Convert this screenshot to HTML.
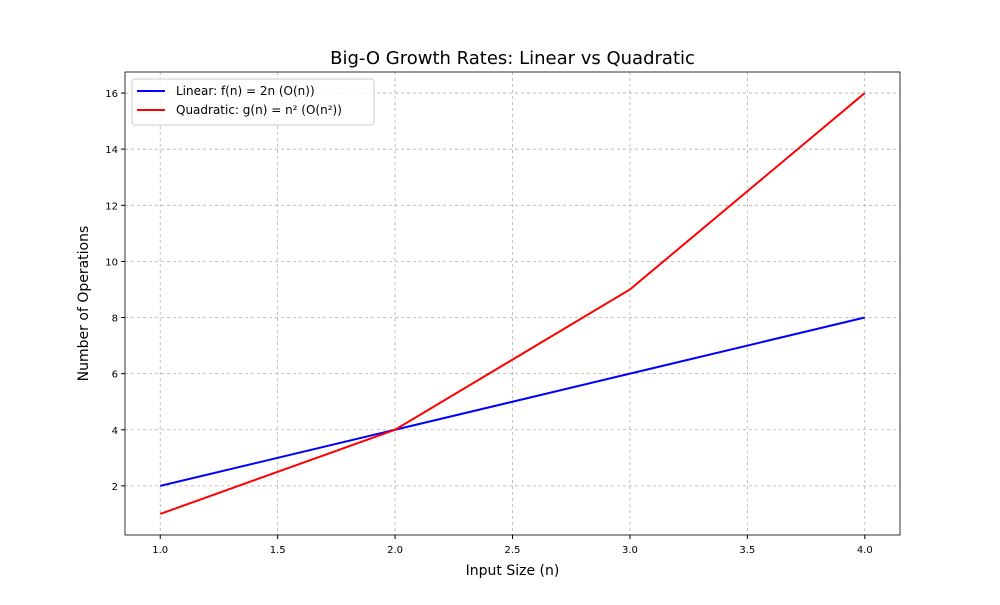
<!DOCTYPE html>
<html><head><meta charset="utf-8"><style>
body{margin:0;background:#fff;font-family:"Liberation Sans","DejaVu Sans",sans-serif;}
</style></head><body>
<svg id="chart" width="1000" height="600" xmlns="http://www.w3.org/2000/svg" font-family="'DejaVu Sans','Liberation Sans',sans-serif"></svg>
<script>
const xValues=[1,2,3,4];
const linearValues=[2,4,6,8];
const quadraticValues=[1,4,9,16];
const xTicks=[1.0,1.5,2.0,2.5,3.0,3.5,4.0];
const yTicks=[2,4,6,8,10,12,14,16];
const L=125,R=900,T=72,B=535;
const xMin=0.85,xMax=4.15,yMin=0.25,yMax=16.75;
const sx=v=>L+(v-xMin)/(xMax-xMin)*(R-L);
const sy=v=>B-(v-yMin)/(yMax-yMin)*(B-T);
const svg=document.getElementById('chart');
const NS='http://www.w3.org/2000/svg';
function mk(tag,attrs,parent){const e=document.createElementNS(NS,tag);for(const k in attrs)e.setAttribute(k,attrs[k]);(parent||svg).appendChild(e);return e;}
const grid=mk('g',{});


xTicks.forEach(t=>{
  const x=sx(t);
  const g=mk('line',{x1:x,x2:x,y1:T,y2:B,stroke:'#b0b0b0','stroke-dasharray':'3,3','stroke-width':0.8},grid);
  
  
  const tk=mk('line',{x1:x,x2:x,y1:B,y2:B+4,stroke:'#000'});
  
  
  const tx=mk('text',{x:x,y:B+18,'text-anchor':'middle','font-size':10});
  tx.textContent=t.toFixed(1);
  
  
});
yTicks.forEach(t=>{
  const y=sy(t);
  const g=mk('line',{x1:L,x2:R,y1:y,y2:y,stroke:'#b0b0b0','stroke-dasharray':'3,3','stroke-width':0.8},grid);
  
  
  const tk=mk('line',{x1:L-4,x2:L,y1:y,y2:y,stroke:'#000'});
  
  
  const tx=mk('text',{x:L-7,y:y+4,'text-anchor':'end','font-size':10});
  tx.textContent=t;
  
  
});
function series(vals,color,name){
  const p=mk('polyline',{points:xValues.map((x,i)=>sx(x)+','+sy(vals[i])).join(' '),fill:'none',stroke:color,'stroke-width':2});
  
  
}
series(linearValues,'#0000ff','linear-line');
series(quadraticValues,'#ff0000','quadratic-line');
const frame=mk('rect',{x:L,y:T,width:R-L,height:B-T,fill:'none',stroke:'#000','stroke-width':0.8});


const title=mk('text',{x:(L+R)/2,y:64,'text-anchor':'middle','font-size':18});
title.textContent='Big-O Growth Rates: Linear vs Quadratic';


const xt=mk('text',{x:(L+R)/2,y:575,'text-anchor':'middle','font-size':14});
xt.textContent='Input Size (n)';


const yt=mk('text',{x:88,y:(T+B)/2,'text-anchor':'middle','font-size':14,transform:'rotate(-90 88 '+((T+B)/2)+')'});
yt.textContent='Number of Operations';


const lg=mk('g',{});


mk('rect',{x:132,y:79,width:242,height:46,rx:3,fill:'#fff','fill-opacity':0.8,stroke:'#ccc'},lg);
[['Linear: f(n) = 2n (O(n))','#0000ff',95],['Quadratic: g(n) = n² (O(n²))','#ff0000',114]].forEach(([lbl,c,y])=>{
  const ln=mk('line',{x1:137,x2:165,y1:y-4,y2:y-4,stroke:c,'stroke-width':2},lg);
  
  
  const t=mk('text',{x:176,y:y,'font-size':12},lg);
  t.textContent=lbl;
  
  
});
</script>
</body></html>
